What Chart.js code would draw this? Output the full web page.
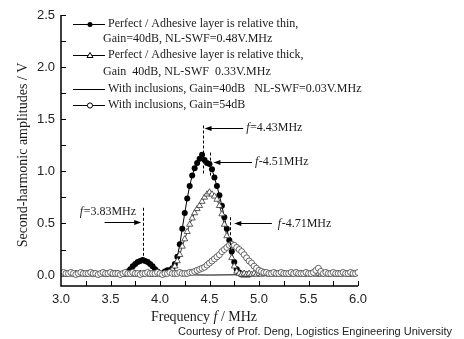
<!DOCTYPE html>
<html><head><meta charset="utf-8">
<script src="https://cdn.jsdelivr.net/npm/chart.js@4/dist/chart.umd.min.js"></script>
<style>html,body{margin:0;padding:0;background:#fff;}#wrap{width:464px;height:339px;position:relative;}</style>
</head><body><div id="wrap"><canvas id="c" width="464" height="339"></canvas></div>
<script>
// ---- data ----
const freq = [
3.000,3.025,3.050,3.075,3.100,3.125,3.150,3.175,3.200,3.225,
3.250,3.275,3.300,3.325,3.350,3.375,3.400,3.425,3.450,3.475,
3.500,3.525,3.550,3.575,3.600,3.625,3.650,3.675,3.700,3.725,
3.750,3.775,3.800,3.825,3.850,3.875,3.900,3.925,3.950,3.975,
4.000,4.025,4.050,4.075,4.100,4.125,4.150,4.175,4.200,4.225,
4.250,4.275,4.300,4.325,4.350,4.375,4.400,4.425,4.450,4.475,
4.500,4.525,4.550,4.575,4.600,4.625,4.650,4.675,4.700,4.725,
4.750,4.775,4.800,4.825,4.850,4.875,4.900,4.925,4.950,4.975,
5.000,5.025,5.050,5.075,5.100,5.125,5.150,5.175,5.200,5.225,
5.250,5.275,5.300,5.325,5.350,5.375,5.400,5.425,5.450,5.475,
5.500,5.525,5.550,5.575,5.600,5.625,5.650,5.675,5.700,5.725,
5.750,5.775,5.800,5.825,5.850,5.875,5.900,5.925,5.950,5.975,
6.000];
// Perfect / thick adhesive layer (open triangles)
const ampThick = [
0.01,0.02,0.01,0.02,0.02,0.01,0.02,0.01,0.02,0.02,
0.01,0.02,0.02,0.01,0.02,0.01,0.02,0.02,0.01,0.02,
0.02,0.01,0.02,0.02,0.01,0.02,0.01,0.02,0.02,0.01,
0.02,0.01,0.02,0.01,0.02,0.02,0.01,0.02,0.01,0.02,
0.02,0.01,0.02,0.02,0.03,0.06,0.09,0.14,0.20,0.28,
0.35,0.42,0.49,0.55,0.60,0.64,0.67,0.71,0.75,0.78,
0.80,0.78,0.76,0.73,0.67,0.59,0.49,0.38,0.27,0.17,
0.09,0.04,0.02,0.01,0.02,0.01,0.02,0.01,0.02,0.01,
0.02,0.01,0.02,0.02,0.01,0.02,0.01,0.02,0.02,0.01,
0.02,0.01,0.02,0.01,0.02,0.02,0.01,0.02,0.01,0.02,
0.01,0.02,0.02,0.01,0.02,0.01,0.02,0.02,0.01,0.02,
0.02,0.01,0.02,0.01,0.02,0.02,0.01,0.02,0.01,0.02,
0.02];
// With inclusions, Gain=54dB (open circles)
const ampIncl54 = [
0.02,0.03,0.02,0.02,0.03,0.02,0.01,0.02,0.03,0.02,
0.02,0.02,0.03,0.02,0.02,0.01,0.02,0.03,0.02,0.02,
0.03,0.02,0.02,0.02,0.01,0.02,0.03,0.02,0.02,0.03,
0.02,0.02,0.01,0.02,0.02,0.03,0.02,0.02,0.02,0.03,
0.02,0.01,0.02,0.02,0.03,0.02,0.02,0.02,0.03,0.02,
0.02,0.02,0.03,0.03,0.04,0.05,0.06,0.07,0.08,0.10,
0.12,0.14,0.16,0.18,0.20,0.23,0.25,0.27,0.29,0.30,
0.29,0.27,0.25,0.23,0.20,0.17,0.14,0.12,0.09,0.07,
0.05,0.04,0.03,0.03,0.02,0.02,0.03,0.02,0.02,0.03,
0.02,0.02,0.02,0.03,0.02,0.03,0.02,0.02,0.02,0.03,
0.02,0.02,0.03,0.05,0.07,0.04,0.02,0.03,0.02,0.02,
0.03,0.02,0.02,0.02,0.03,0.02,0.02,0.03,0.02,0.02,
0.03];
// Perfect / thin adhesive layer (filled circles)
const freqThin = [
3.650,3.675,3.700,3.725,3.750,3.775,3.800,3.825,3.850,3.875,
3.900,3.925,3.950,3.975,4.000,4.025,4.050,4.075,4.100,4.125,
4.150,4.175,4.200,4.225,4.250,4.275,4.300,4.325,4.350,4.375,
4.400,4.425,4.450,4.475,4.500,4.525,4.550,4.575,4.600,4.625,
4.650,4.675,4.700,4.725,4.750,4.775,4.800,4.825,4.850,4.875,
4.900];
const ampThin = [
0.02,0.04,0.06,0.09,0.11,0.13,0.14,0.15,0.14,0.13,
0.11,0.09,0.06,0.04,0.02,0.02,0.04,0.05,0.05,0.07,
0.11,0.18,0.30,0.45,0.60,0.74,0.86,0.96,1.03,1.08,
1.12,1.16,1.11,1.08,1.07,1.02,0.94,0.86,0.77,0.67,
0.56,0.45,0.34,0.23,0.13,0.06,0.03,0.01,0.01,0.01,
0.01];
// With inclusions, Gain=40dB (plain line)
const freqLine = [3.0,3.5,4.0,4.5,5.0,5.5,6.0];
const ampIncl40 = [0.01,0.01,0.01,0.005,0.01,0.01,0.01];

const xTicks = [3.0,3.5,4.0,4.5,5.0,5.5,6.0];
const yTicks = [0.0,0.5,1.0,1.5,2.0,2.5];
const xMinorTicks = [3.25,3.5,3.75,4.0,4.25,4.5,4.75,5.0,5.25,5.5,5.75,6.0];
const yMinorTicks = [0.25,0.5,0.75,1.0,1.25,1.5,1.75,2.0,2.25,2.5];

const peakFreqs = [3.83,4.43,4.51,4.71];
const peakLabels = ["f=3.83MHz","f=4.43MHz","f-4.51MHz","f-4.71MHz"];
const legendTexts = [
 ["Perfect / Adhesive layer is relative thin,","Gain=40dB, NL-SWF=0.48V.MHz"],
 ["Perfect / Adhesive layer is relative thick,","Gain  40dB, NL-SWF  0.33V.MHz"],
 ["With inclusions, Gain=40dB   NL-SWF=0.03V.MHz"],
 ["With inclusions, Gain=54dB"]
];

// annotation geometry (data units)
const peakMarkGeom = [
 {yTop:0.65, yBot:0.13, arrowY:0.51, tail:3.44, head:3.81, labelX:3.19, labelY:0.61},
 {yTop:1.44, yBot:0.98, arrowY:1.42, tail:4.84, head:4.45, labelX:4.87, labelY:1.42},
 {yTop:1.18, yBot:0.94, arrowY:1.09, tail:4.93, head:4.54, labelX:4.96, labelY:1.09},
 {yTop:0.56, yBot:0.25, arrowY:0.50, tail:5.13, head:4.75, labelX:5.19, labelY:0.50}
];

const SERIF = '"Liberation Serif","Times New Roman",serif';
const SANS = '"Liberation Sans",Arial,sans-serif';
const INK = '#1a1a1a';

function pts(xs, ys){ return xs.map((x,i)=>({x:x, y:ys[i]})); }

function drawMixed(ctx, str, x, y, size, align){
  const a = str.charAt(0), b = str.slice(1);
  ctx.font = 'italic ' + size + 'px ' + SERIF;
  const wa = ctx.measureText(a).width;
  ctx.font = size + 'px ' + SERIF;
  const wb = ctx.measureText(b).width;
  let sx = x;
  if (align === 'center') sx = x - (wa+wb)/2;
  ctx.textAlign = 'left'; ctx.textBaseline = 'middle';
  ctx.font = 'italic ' + size + 'px ' + SERIF;
  ctx.fillText(a, sx, y);
  ctx.font = size + 'px ' + SERIF;
  ctx.fillText(b, sx + wa + 0.5, y);
}

function marker(ctx, kind, x, y){
  ctx.save();
  ctx.lineWidth = 1; ctx.strokeStyle = '#000';
  if (kind === 'filled'){
    ctx.fillStyle = '#000'; ctx.beginPath(); ctx.arc(x,y,2.5,0,Math.PI*2); ctx.fill();
  } else if (kind === 'tri'){
    ctx.fillStyle = '#fff'; ctx.beginPath();
    ctx.moveTo(x, y-3); ctx.lineTo(x+3, y+2); ctx.lineTo(x-3, y+2); ctx.closePath();
    ctx.fill(); ctx.stroke();
  } else if (kind === 'circle'){
    ctx.fillStyle = '#fff'; ctx.beginPath(); ctx.arc(x,y,2.6,0,Math.PI*2); ctx.fill(); ctx.stroke();
  }
  ctx.restore();
}

const decor = {
  id: 'decor',
  afterDraw(chart){
    const ctx = chart.ctx, xs = chart.scales.x, ys = chart.scales.y, ca = chart.chartArea;
    ctx.save();
    // axes
    ctx.strokeStyle = '#000'; ctx.lineWidth = 1.5;
    ctx.beginPath(); ctx.moveTo(ca.left, ca.top); ctx.lineTo(ca.left, ca.bottom); ctx.lineTo(ca.right, ca.bottom); ctx.stroke();
    // inward ticks
    ctx.lineWidth = 1;
    ctx.beginPath();
    xMinorTicks.forEach(v=>{ const px = Math.round(xs.getPixelForValue(v))+0.5; ctx.moveTo(px, ca.bottom); ctx.lineTo(px, ca.bottom-5); });
    yMinorTicks.forEach(v=>{ const py = Math.round(ys.getPixelForValue(v))+0.5; ctx.moveTo(ca.left, py); ctx.lineTo(ca.left+5, py); });
    ctx.stroke();

    // peak markers
    ctx.strokeStyle = '#000'; ctx.fillStyle = '#000'; ctx.lineWidth = 1;
    peakFreqs.forEach((f,i)=>{
      const g = peakMarkGeom[i];
      const px = Math.round(xs.getPixelForValue(f))+0.5;
      ctx.setLineDash([3,2]);
      ctx.beginPath(); ctx.moveTo(px, ys.getPixelForValue(g.yTop)); ctx.lineTo(px, ys.getPixelForValue(g.yBot)); ctx.stroke();
      ctx.setLineDash([]);
      const ay = Math.round(ys.getPixelForValue(g.arrowY))+0.5;
      const tx = xs.getPixelForValue(g.tail), hx = xs.getPixelForValue(g.head);
      const dir = Math.sign(hx - tx);
      ctx.beginPath(); ctx.moveTo(tx, ay); ctx.lineTo(hx - dir*4, ay); ctx.stroke();
      ctx.beginPath(); ctx.moveTo(hx, ay); ctx.lineTo(hx - dir*7, ay-2.5); ctx.lineTo(hx - dir*7, ay+2.5); ctx.closePath(); ctx.fill();
      ctx.fillStyle = INK;
      drawMixed(ctx, peakLabels[i], xs.getPixelForValue(g.labelX), ys.getPixelForValue(g.labelY), 12, 'left');
      ctx.fillStyle = '#000';
    });

    // legend
    const kinds = ['filled','tri','line','circle'];
    const rowY = [[24,39],[55,72],[89],[105]];
    const textX = [[108,103],[108,103],[108],[108]];
    ctx.font = '12px ' + SERIF; ctx.textAlign = 'left'; ctx.textBaseline = 'middle';
    kinds.forEach((k,i)=>{
      const y = rowY[i][0] + 0.5;
      ctx.strokeStyle = '#000'; ctx.lineWidth = 1;
      ctx.beginPath(); ctx.moveTo(73, y); ctx.lineTo(105, y); ctx.stroke();
      if (k !== 'line') marker(ctx, k, 90, y);
      ctx.fillStyle = INK; ctx.font = '12px ' + SERIF;
      legendTexts[i].forEach((t,j)=>{ ctx.fillText(t, textX[i][j], rowY[i][j]); });
    });

    // axis titles
    ctx.fillStyle = INK;
    const xt1 = 'Frequency ', xt2 = 'f', xt3 = ' / MHz';
    ctx.font = '14px ' + SERIF; const w1 = ctx.measureText(xt1).width, w3 = ctx.measureText(xt3).width;
    ctx.font = 'italic 14px ' + SERIF; const w2 = ctx.measureText(xt2).width;
    let sx = 204 - (w1+w2+w3)/2; const ty = 317;
    ctx.textAlign='left'; ctx.textBaseline='middle';
    ctx.font = '14px ' + SERIF; ctx.fillText(xt1, sx, ty);
    ctx.font = 'italic 14px ' + SERIF; ctx.fillText(xt2, sx+w1, ty);
    ctx.font = '14px ' + SERIF; ctx.fillText(xt3, sx+w1+w2, ty);
    ctx.save(); ctx.translate(23, 155); ctx.rotate(-Math.PI/2);
    ctx.textAlign='center'; ctx.font = '14px ' + SERIF;
    ctx.fillText('Second-harmonic amplitudes / V', 0, 0);
    ctx.restore();
    ctx.font = '11px ' + SANS; ctx.textAlign = 'right'; ctx.fillStyle = '#222';
    ctx.fillText('Courtesy of Prof. Deng, Logistics Engineering University', 452, 332);
    ctx.restore();
  }
};

new Chart(document.getElementById('c'), {
  type: 'line',
  data: {
    datasets: [
      { label:'thin', data: pts(freqThin, ampThin), borderColor:'#000', borderWidth:1, pointStyle:'circle', pointRadius:3, pointBackgroundColor:'#000', pointBorderColor:'#000', pointBorderWidth:0, tension:0, order:4 },
      { label:'incl40', data: pts(freqLine, ampIncl40), borderColor:'#000', borderWidth:1, pointRadius:0, tension:0, order:3 },
      { label:'thick', data: pts(freq, ampThick), borderColor:'#000', borderWidth:0.8, pointStyle:'triangle', pointRadius:3.5, pointBackgroundColor:'#fff', pointBorderColor:'#333', pointBorderWidth:0.8, tension:0, order:2 },
      { label:'incl54', data: pts(freq, ampIncl54), borderColor:'#333', borderWidth:0.8, pointStyle:'circle', pointRadius:3, pointBackgroundColor:'#fff', pointBorderColor:'#444', pointBorderWidth:0.8, tension:0, order:1 }
    ]
  },
  options: {
    responsive:false, animation:false, devicePixelRatio:1,
    layout:{ padding:{ top:15, right:106, bottom:0, left:0 } },
    plugins:{ legend:{display:false}, tooltip:{enabled:false} },
    scales:{
      x:{ type:'linear', min:3, max:6,
        afterBuildTicks(s){ s.ticks = xTicks.map(v=>({value:v})); },
        afterFit(s){ s.height = 53; },
        grid:{ display:false, drawTicks:false }, border:{ display:false },
        ticks:{ padding:6, color:'#222', font:{ family:SANS, size:13 }, callback:v=>Number(v).toFixed(1), maxRotation:0 }
      },
      y:{ type:'linear', min:-0.1, max:2.5,
        afterBuildTicks(s){ s.ticks = yTicks.map(v=>({value:v})); },
        afterFit(s){ s.width = 61; },
        grid:{ display:false, drawTicks:false }, border:{ display:false },
        ticks:{ padding:6, color:'#222', font:{ family:SANS, size:13 }, callback:v=>Number(v).toFixed(1) }
      }
    }
  },
  plugins:[decor]
});
</script></body></html>
